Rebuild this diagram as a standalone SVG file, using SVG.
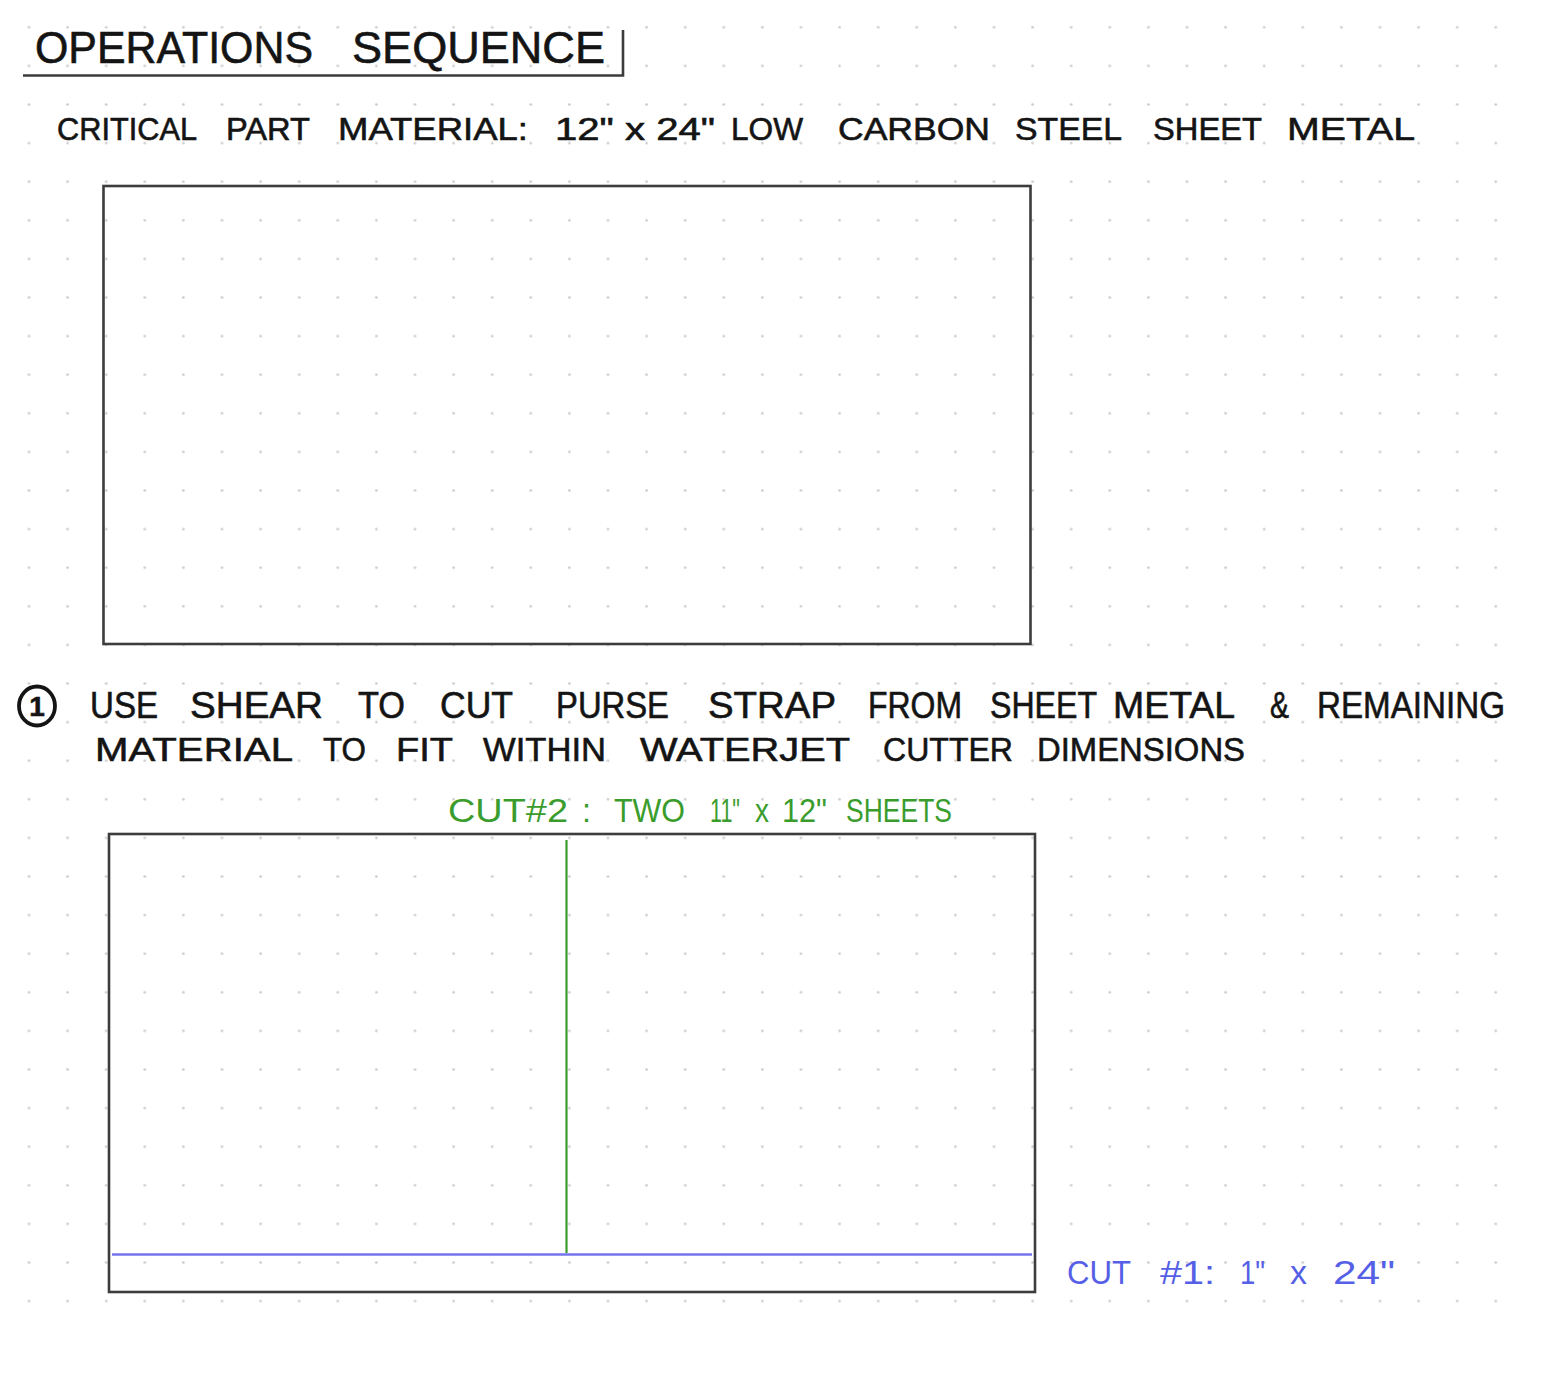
<svg xmlns="http://www.w3.org/2000/svg" width="1546" height="1382" viewBox="0 0 1546 1382">
<defs>
<pattern id="dots" x="9.7" y="8" width="38.6" height="38.6" patternUnits="userSpaceOnUse">
<circle cx="19.3" cy="19.3" r="1.3" fill="#c9c9c9"/>
</pattern>
</defs>
<style>
.ink{font-family:"Liberation Sans","DejaVu Sans",sans-serif;fill:#141414;stroke:#141414;stroke-width:0.6;}
.sheet{fill:none;stroke:#3c3c3c;stroke-width:2.6;}
.green{fill:#3a9c2c;font-family:"Liberation Sans","DejaVu Sans",sans-serif;}
.blue{fill:#5560e6;font-family:"Liberation Sans","DejaVu Sans",sans-serif;}
</style>
<rect width="1546" height="1382" fill="#ffffff"/>
<rect x="9.7" y="8" width="1506" height="1312" fill="url(#dots)"/>

<g id="title">
<text class="ink" font-size="44" y="63" stroke-width="1"><tspan x="35" textLength="278" lengthAdjust="spacingAndGlyphs">OPERATIONS</tspan><tspan x="352" textLength="253" lengthAdjust="spacingAndGlyphs">SEQUENCE</tspan></text>
<path d="M23 75.5 H623 V30" fill="none" stroke="#3c3c3c" stroke-width="2.6"/>
</g>

<g id="material-label">
<text class="ink" font-size="32" y="140"><tspan x="57" textLength="140" lengthAdjust="spacingAndGlyphs">CRITICAL</tspan><tspan x="226" textLength="84" lengthAdjust="spacingAndGlyphs">PART</tspan><tspan x="338" textLength="190" lengthAdjust="spacingAndGlyphs">MATERIAL:</tspan><tspan x="555" textLength="160" lengthAdjust="spacingAndGlyphs">12" x 24"</tspan><tspan x="731" textLength="72" lengthAdjust="spacingAndGlyphs">LOW</tspan><tspan x="838" textLength="152" lengthAdjust="spacingAndGlyphs">CARBON</tspan><tspan x="1015" textLength="107" lengthAdjust="spacingAndGlyphs">STEEL</tspan><tspan x="1153" textLength="109" lengthAdjust="spacingAndGlyphs">SHEET</tspan><tspan x="1287" textLength="128" lengthAdjust="spacingAndGlyphs">METAL</tspan></text>
</g>

<g id="sheet-original">
<rect class="sheet" x="103.5" y="186" width="927" height="458"/>
</g>

<g id="step-1">
<ellipse cx="37" cy="706" rx="18" ry="19.5" fill="none" stroke="#141414" stroke-width="3.8"/>
<text class="ink" font-size="28" font-weight="bold" x="37" y="716" text-anchor="middle">1</text>
<text class="ink" font-size="36" y="718"><tspan x="90" textLength="68" lengthAdjust="spacingAndGlyphs">USE</tspan><tspan x="190" textLength="133" lengthAdjust="spacingAndGlyphs">SHEAR</tspan><tspan x="358" textLength="47" lengthAdjust="spacingAndGlyphs">TO</tspan><tspan x="440" textLength="73" lengthAdjust="spacingAndGlyphs">CUT</tspan><tspan x="556" textLength="113" lengthAdjust="spacingAndGlyphs">PURSE</tspan><tspan x="708" textLength="128" lengthAdjust="spacingAndGlyphs">STRAP</tspan><tspan x="868" textLength="94" lengthAdjust="spacingAndGlyphs">FROM</tspan><tspan x="990" textLength="107" lengthAdjust="spacingAndGlyphs">SHEET</tspan><tspan x="1113" textLength="122" lengthAdjust="spacingAndGlyphs">METAL</tspan><tspan x="1270" textLength="19" lengthAdjust="spacingAndGlyphs">&amp;</tspan><tspan x="1317" textLength="188" lengthAdjust="spacingAndGlyphs">REMAINING</tspan></text>
<text class="ink" font-size="34" y="761"><tspan x="95" textLength="198" lengthAdjust="spacingAndGlyphs">MATERIAL</tspan><tspan x="323" textLength="43" lengthAdjust="spacingAndGlyphs">TO</tspan><tspan x="396" textLength="57" lengthAdjust="spacingAndGlyphs">FIT</tspan><tspan x="483" textLength="123" lengthAdjust="spacingAndGlyphs">WITHIN</tspan><tspan x="640" textLength="210" lengthAdjust="spacingAndGlyphs">WATERJET</tspan><tspan x="883" textLength="130" lengthAdjust="spacingAndGlyphs">CUTTER</tspan><tspan x="1037" textLength="208" lengthAdjust="spacingAndGlyphs">DIMENSIONS</tspan></text>
</g>

<g id="sheet-cut-plan">
<rect class="sheet" x="109" y="834" width="926" height="458"/>
</g>

<g id="connectors">
<line id="cut-2-line" x1="566.5" y1="840" x2="566.5" y2="1253" stroke="#3a9c2c" stroke-width="2.2"/>
<line id="cut-1-line" x1="112" y1="1254.5" x2="1032" y2="1254.5" stroke="#7474ee" stroke-width="2.4"/>
</g>

<g id="cut-2-label">
<text class="green" font-size="34" y="822"><tspan x="448" textLength="120" lengthAdjust="spacingAndGlyphs">CUT#2</tspan><tspan x="582" textLength="9" lengthAdjust="spacingAndGlyphs">:</tspan><tspan x="614" textLength="71" lengthAdjust="spacingAndGlyphs">TWO</tspan><tspan x="710" textLength="30" lengthAdjust="spacingAndGlyphs">11"</tspan><tspan x="755" textLength="14" lengthAdjust="spacingAndGlyphs">x</tspan><tspan x="782" textLength="45" lengthAdjust="spacingAndGlyphs">12"</tspan><tspan x="846" textLength="106" lengthAdjust="spacingAndGlyphs">SHEETS</tspan></text>
</g>

<g id="cut-1-label">
<text class="blue" font-size="34" y="1284"><tspan x="1067" textLength="64" lengthAdjust="spacingAndGlyphs">CUT</tspan><tspan x="1160" textLength="55" lengthAdjust="spacingAndGlyphs">#1:</tspan><tspan x="1240" textLength="25" lengthAdjust="spacingAndGlyphs">1"</tspan><tspan x="1290" textLength="17" lengthAdjust="spacingAndGlyphs">x</tspan><tspan x="1333" textLength="62" lengthAdjust="spacingAndGlyphs">24"</tspan></text>
</g>
</svg>
